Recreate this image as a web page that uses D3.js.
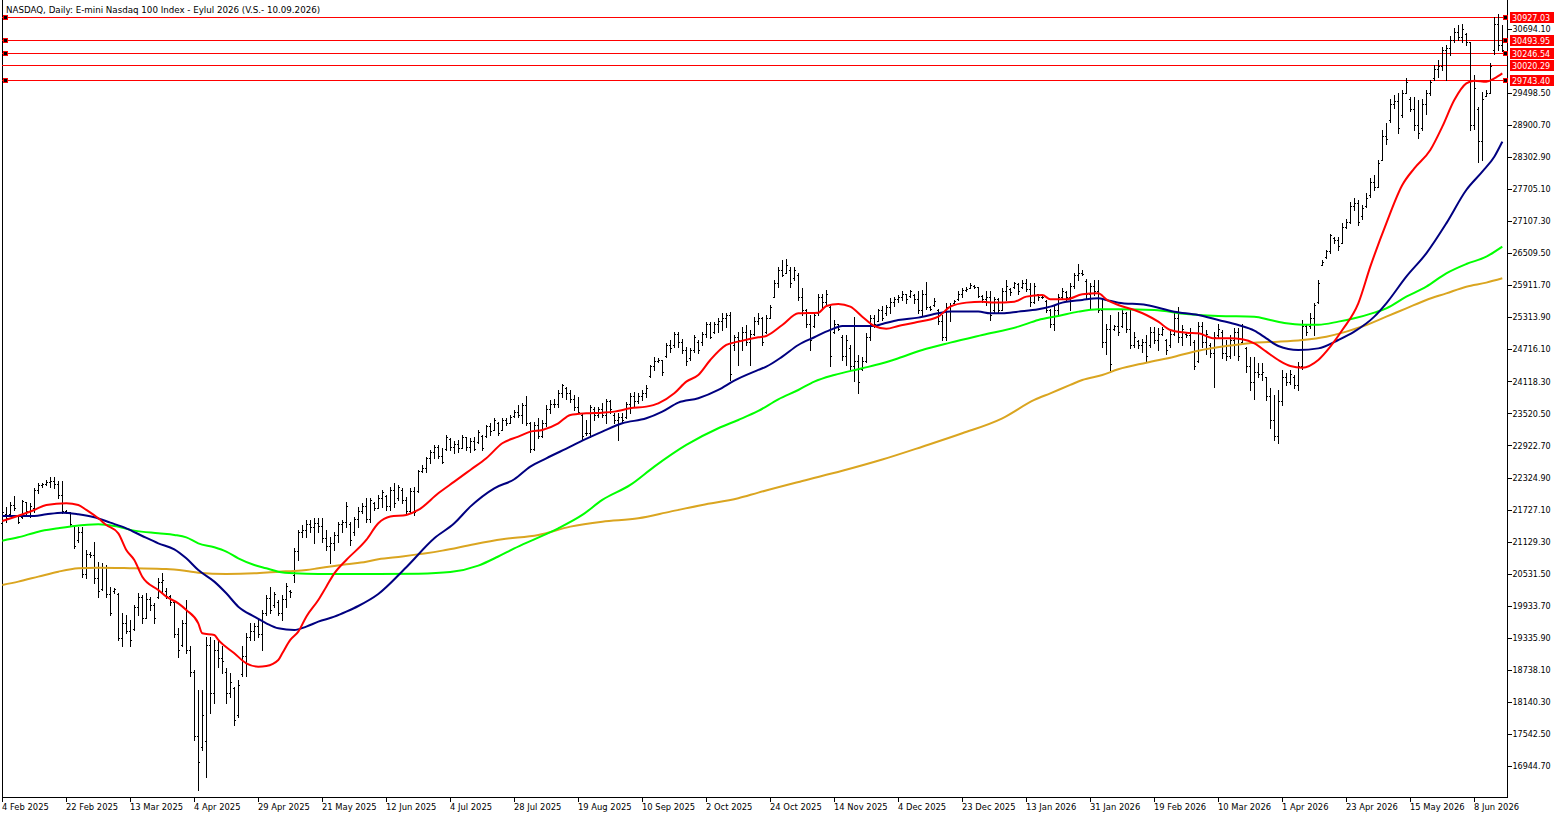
<!DOCTYPE html>
<html><head><meta charset="utf-8">
<script src="https://cdn.jsdelivr.net/npm/d3@7"></script>
<style>
body{margin:0;background:#fff;}
svg{display:block;}
text{font-family:"DejaVu Sans",Verdana,sans-serif;font-size:8px;}
</style>
</head><body><svg id="c" width="1565" height="818"></svg>
<script>
const title = "NASDAQ, Daily:  E-mini Nasdaq 100 Index - Eylul 2026 (V.S.- 10.09.2026)";
const dateLabels = ["4 Feb 2025","22 Feb 2025","13 Mar 2025","4 Apr 2025","29 Apr 2025","21 May 2025","12 Jun 2025","4 Jul 2025","28 Jul 2025","19 Aug 2025","10 Sep 2025","2 Oct 2025","24 Oct 2025","14 Nov 2025","4 Dec 2025","23 Dec 2025","13 Jan 2026","31 Jan 2026","19 Feb 2026","10 Mar 2026","1 Apr 2026","23 Apr 2026","15 May 2026","8 Jun 2026"];
const dateLabelBars = [0,16,32,48,64,80,96,112,128,144,160,176,192,208,224,240,256,272,288,304,320,336,352,368];
const priceTicks = [16944.70,17542.50,18140.30,18738.10,19335.90,19933.70,20531.50,21129.30,21727.10,22324.90,22922.70,23520.50,24118.30,24716.10,25313.90,25911.70,26509.50,27107.30,27705.10,28302.90,28900.70,29498.50,30694.10];
const levels = [30927.03,30493.95,30246.54,30020.29,29743.40];
const levelMarked = [true,true,true,false,true];

// [open, high, low, close] per daily bar
const ohlc = [
[21480,21720,21410,21680],[21650,21780,21500,21560],[21650,21875,21625,21820],[21820,21980,21720,21760],[21600,21625,21470,21500],
[21580,21905,21565,21880],[21860,21875,21625,21700],[21700,21840,21595,21800],[21760,22120,21690,22100],[22100,22215,22030,22180],
[22180,22230,22155,22200],[22200,22280,22185,22240],[22240,22330,22155,22260],[22260,22330,22120,22200],[22200,22265,21935,22000],
[22000,22265,21655,21700],[21700,21720,21655,21680],[21680,21690,21440,21460],[21420,21440,21000,21050],[21150,21410,21130,21300],
[21300,21410,20475,20520],[20520,20970,20440,20900],[20900,20940,20850,20880],[20880,21130,20350,20450],[20450,20755,20100,20200],
[20250,20720,20225,20650],[20650,20690,20100,20150],[20150,20290,19760,19800],[20200,20255,20160,20240],[20150,20160,19290,19330],
[19330,19790,19170,19600],[19600,19760,19415,19450],[19450,19665,19170,19300],[19500,19945,19480,19900],[19900,20160,19760,20100],
[20100,20130,19600,19700],[19700,20160,19700,20050],[20050,20100,19850,19950],[19950,19975,19600,19700],[20100,20440,20070,20380],
[20380,20535,20160,20420],[20200,20255,20070,20120],[20120,20130,19945,20000],[20000,20010,19355,19400],[19400,19510,18980,19100],
[19200,19665,19170,19600],[19600,20040,19040,19100],[19100,19170,18610,18700],[18700,18730,17425,17500],[17500,18360,16490,17020],
[17300,18360,17240,17900],[17400,19355,16740,19200],[19200,19355,17920,18300],[18300,19290,18110,19100],[19100,19290,18790,18950],
[18950,19170,18670,18900],[18700,18760,18110,18300],[18300,18670,18230,18500],[18400,18420,17700,17800],[17900,18545,17860,18450],
[18650,19170,18610,19000],[19000,19415,18610,19350],[19350,19600,19290,19450],[19450,19600,19290,19550],[19550,19665,19355,19400],
[19400,19850,19105,19800],[19800,20130,19760,20080],[20080,20290,19790,19850],[19950,20195,19915,20150],[20000,20040,19760,19800],
[19800,20130,19665,20050],[20050,20350,19915,20300],[20200,20225,20100,20180],[20500,21000,20380,20950],[20950,21345,20785,21300],
[21300,21440,21220,21350],[21350,21530,21220,21450],[21450,21530,21310,21400],[21400,21560,21095,21480],[21480,21560,21310,21420],
[21420,21560,21125,21200],[21200,21345,20970,21050],[21050,21220,20720,21100],[21100,21315,20970,21250],[21250,21500,21125,21450],
[21450,21530,21310,21500],[21500,21875,21410,21800],[21450,21500,21065,21150],[21300,21595,21250,21550],[21550,21780,21410,21700],
[21700,21845,21660,21800],[21800,21935,21500,21550],[21550,21935,21500,21900],[21850,21875,21720,21750],[21750,22000,21750,21950],
[21950,22090,21780,22050],[21980,22000,21720,21800],[21800,22155,21720,22100],[22100,22220,21780,21850],[21950,22190,21910,22150],
[22100,22120,21840,21900],[21900,21970,21660,21700],[21700,22120,21660,22080],[22080,22155,21630,21680],[22070,22470,22060,22450],
[22450,22560,22435,22500],[22500,22715,22435,22680],[22680,22840,22590,22800],[22800,22930,22685,22900],[22900,22930,22685,22720],
[22720,22870,22590,22620],[22850,23120,22840,23080],[23040,23060,22840,22900],[22900,23000,22780,22950],[22950,23030,22810,22880],
[22880,23120,22870,23080],[23080,23090,22840,22900],[22900,23060,22810,23000],[23000,23090,22840,22850],[22980,23210,22965,23180],
[23100,23120,22840,22880],[23100,23310,23090,23280],[23280,23340,23120,23200],[23220,23430,23210,23400],[23350,23370,23120,23150],
[23220,23430,23210,23400],[23400,23430,23310,23350],[23350,23490,23340,23450],[23470,23590,23460,23550],[23550,23680,23460,23500],
[23500,23710,23340,23680],[23680,23850,23310,23350],[23350,23370,22810,22850],[22850,23370,22840,23300],[23300,23430,23060,23100],
[23100,23400,23090,23350],[23350,23680,23280,23600],[23600,23770,23520,23700],[23700,23800,23650,23700],[23700,23960,23650,23900],
[23900,24080,23835,24050],[24000,24020,23800,23900],[23900,23960,23740,23800],[23800,23870,23590,23650],[23650,23835,23520,23550],
[23500,23520,23030,23100],[23150,23400,23120,23150],[23150,23680,23090,23650],[23600,23650,23400,23500],[23500,23650,23460,23600],
[23600,23710,23460,23500],[23500,23800,23340,23750],[23750,23770,23520,23600],[23500,23520,23340,23400],[23400,23520,23030,23450],
[23450,23520,23340,23400],[23450,23740,23430,23700],[23700,23900,23520,23850],[23850,23930,23650,23750],[23750,23900,23710,23850],
[23850,23960,23770,23900],[23900,24050,23835,24000],[24220,24430,24210,24400],[24400,24580,24330,24500],[24500,24550,24490,24520],
[24520,24520,24240,24300],[24600,24830,24580,24800],[24800,24890,24675,24750],[24800,25050,24770,25000],[25000,25050,24770,24850],
[24850,24920,24645,24700],[24700,24770,24430,24500],[24550,24740,24520,24700],[24700,24990,24675,24950],[24850,24890,24645,24700],
[24850,25050,24800,25000],[25000,25235,24955,25200],[25200,25235,24925,24950],[25050,25235,25015,25200],[25200,25300,25050,25250],
[25250,25390,25080,25300],[25300,25390,25140,25350],[25350,25420,24150,24250],[24800,24990,24705,24950],[24950,25050,24430,24900],
[24900,25140,24705,25050],[25050,25170,24800,24850],[24850,25080,24430,25000],[25000,25330,24990,25250],[25250,25390,25200,25300],
[25300,25330,24800,24850],[25050,25360,25020,25300],[25300,25550,25300,25500],[25700,26010,25700,25950],[25950,26260,25890,26200],
[26200,26390,26080,26100],[26150,26400,26140,26300],[26200,26260,25890,25950],[26050,26260,26010,26200],[26100,26140,25640,25700],
[25700,25860,25360,25450],[25450,25480,25140,25200],[25200,25360,24710,24900],[25150,25420,25140,25350],[25400,25760,25360,25700],
[25700,25760,25480,25600],[25600,25830,25520,25750],[25500,25550,24400,24600],[25050,25270,25020,25200],[25200,25200,25080,25100],
[24950,24990,24520,24600],[24600,24990,24430,24900],[24750,24800,24330,24400],[24400,25330,24120,24500],[24500,24610,23900,24100],
[24350,24580,24330,24500],[24500,25020,24490,24950],[24950,25360,24890,25300],[25300,25360,25140,25200],[25250,25480,25240,25450],
[25450,25520,25270,25300],[25400,25550,25360,25500],[25500,25670,25390,25600],[25600,25700,25520,25650],[25650,25730,25610,25700],
[25700,25800,25640,25750],[25750,25760,25580,25650],[25720,25830,25700,25800],[25740,25760,25580,25650],[25650,25800,25390,25450],
[25450,25830,25360,25750],[25750,25980,25480,25500],[25500,25520,25450,25480],[25540,25670,25520,25620],[25460,25480,25200,25250],
[25250,25360,24890,24950],[24950,25580,24890,25500],[25500,25580,25240,25550],[25590,25640,25580,25620],[25650,25800,25640,25750],
[25750,25860,25700,25820],[25820,25890,25800,25850],[25870,25950,25860,25920],[25900,25920,25860,25880],[25880,25890,25700,25720],
[25720,25730,25610,25650],[25650,25800,25550,25700],[25700,25800,25270,25350],[25450,25700,25420,25650],[25650,25670,25390,25450],
[25450,25860,25450,25800],[25800,26010,25640,25900],[25850,25860,25730,25780],[25880,25980,25860,25950],[25930,25950,25760,25800],
[25880,26010,25860,25950],[25950,26040,25800,25850],[25850,25950,25520,25600],[25600,25950,25580,25900],[25750,25760,25640,25700],
[25700,25730,25670,25700],[25620,25640,25420,25450],[25450,25480,25140,25200],[25200,25520,25080,25450],[25450,25760,25360,25700],
[25700,25860,25670,25800],[25780,25800,25640,25700],[25700,25950,25450,25900],[25900,26140,25860,26100],[26100,26320,26010,26150],
[26150,26200,26110,26130],[26000,26040,25670,25750],[25750,25950,25480,25900],[25900,26010,25730,25800],[25800,26010,25420,25450],
[25450,25670,24770,24850],[24850,25200,24640,25100],[25100,25360,24330,24450],[25100,25170,25080,25150],[25150,25420,24990,25050],
[25150,25450,25140,25400],[25400,25420,25050,25100],[25100,25450,24740,24800],[24800,25050,24770,24950],[24870,24890,24740,24800],
[24800,24920,24670,24850],[24850,24990,24490,24600],[24800,25140,24770,25050],[25050,25140,24830,24900],[24900,25110,24700,25000],
[25000,25140,24990,25100],[24900,24920,24640,24700],[24800,25080,24770,25000],[25000,25390,24990,25300],[25300,25510,24860,24950],
[24950,25170,24800,25100],[25000,25020,24950,24980],[24980,25110,24800,25050],[24850,24890,24360,24400],[24500,25230,24490,25150],
[25150,25230,24770,24850],[24850,25080,24640,25000],[24800,24830,24580,24650],[24650,25050,24020,24950],[24980,25200,24950,25100],
[25050,25080,24550,24650],[24650,24890,24520,24600],[24600,24990,24550,24900],[24900,25110,24610,25050],[25050,25110,24520,24600],
[24850,25200,24830,25150],[24750,24770,24300,24400],[24400,24580,23960,24100],[24100,24580,23800,24300],[24300,24460,24210,24250],
[24250,24460,24150,24300],[24200,24210,23770,23850],[23850,23990,23240,23400],[23400,23860,23030,23100],[23100,23960,22960,23750],
[23750,24330,23680,24200],[24200,24270,24050,24100],[24100,24330,24080,24250],[24200,24240,23990,24050],[24050,24490,23960,24400],
[24400,25270,24360,25150],[25150,25200,24990,25050],[25150,25390,25110,25300],[25300,25580,24990,25550],[25600,26010,25580,25950],
[26300,26390,26290,26350],[26450,26570,26420,26550],[26550,26880,26510,26850],[26800,26820,26700,26750],[26750,26820,26570,26650],
[26700,27070,26700,27000],[27000,27160,26980,27100],[27100,27470,27070,27400],[27400,27540,27320,27450],[27450,27510,27040,27100],
[27200,27410,27160,27350],[27400,27630,27380,27550],[27600,27910,27570,27850],[27850,27970,27690,27750],[27750,28250,27750,28200],
[28250,28810,28250,28700],[28700,28940,28560,28650],[29000,29400,28970,29300],[29300,29470,29220,29350],[29350,29500,28750,28850],
[29100,29560,29060,29500],[29500,29780,29500,29700],[29400,29430,29160,29200],[29200,29430,28810,28900],[28900,29370,28660,28750],
[28850,29400,28810,29300],[29300,29560,29120,29500],[29500,29750,29470,29700],[29780,30030,29750,29950],[29950,30120,29810,30000],
[30000,30370,29930,30300],[30300,30400,29750,30350],[30350,30560,30210,30500],[30500,30710,30460,30650],[30650,30770,30490,30550],
[30550,30800,30460,30700],[30600,30620,30400,30450],[30450,30460,28810,28900],[28900,29840,28840,29600],[29200,29250,28220,28600],
[28600,29530,28250,29400],[29450,29560,29440,29500],[29500,30060,29500,30000],[30300,30930,30240,30800],[30800,30980,30310,30400],
[30400,30770,30280,30300]
];

// moving averages: [bar index, value]
const maRed = [[0,21513],[8,21719],[11,21812],[16,21843],[19,21812],[21,21719],[24,21563],[26,21439],[29,21283],[31,20972],[33,20785],[35,20474],[39,20225],[41,20100],[44,19976],[46,19852],[49,19603],[50,19416],[53,19385],[54,19292],[58,19043],[61,18856],[64,18794],[66,18806],[69,18918],[70,19043],[72,19292],[74,19447],[76,19727],[79,20038],[81,20287],[83,20536],[86,20785],[91,21159],[94,21470],[97,21595],[101,21626],[104,21719],[109,22030],[113,22248],[117,22466],[121,22684],[125,22964],[129,23088],[132,23182],[135,23213],[139,23337],[142,23493],[146,23524],[150,23536],[153,23555],[157,23617],[161,23648],[164,23710],[168,23897],[171,24115],[174,24239],[177,24519],[181,24799],[184,24862],[189,24943],[191,24968],[195,25173],[199,25391],[204,25403],[206,25528],[209,25565],[212,25515],[215,25328],[218,25154],[221,25104],[224,25154],[228,25216],[234,25328],[237,25515],[241,25590],[245,25608],[248,25590],[253,25608],[256,25702],[260,25733],[262,25652],[266,25652],[270,25745],[274,25764],[276,25652],[279,25546],[283,25452],[286,25359],[289,25235],[292,25079],[296,25029],[299,25017],[303,24923],[307,24923],[310,24905],[313,24830],[316,24674],[319,24519],[322,24407],[325,24376],[329,24519],[332,24768],[335,25079],[339,25577],[342,26261],[346,27070],[350,27786],[353,28097],[357,28439],[360,28875],[363,29373],[366,29684],[368,29734],[371,29715],[373,29777],[375,29871]];
const maNavy = [[0,21607],[8,21607],[11,21638],[15,21669],[19,21638],[23,21582],[27,21482],[31,21376],[35,21233],[39,21096],[43,20984],[46,20816],[49,20598],[53,20381],[56,20163],[59,19914],[63,19727],[66,19603],[69,19509],[73,19478],[76,19541],[79,19634],[83,19727],[86,19821],[89,19926],[94,20150],[101,20650],[108,21190],[113,21470],[117,21781],[123,22124],[128,22292],[132,22528],[136,22684],[142,22901],[145,23013],[150,23182],[155,23337],[161,23430],[165,23555],[169,23723],[174,23804],[179,23959],[183,24134],[189,24333],[191,24395],[195,24582],[199,24799],[203,24943],[207,25080],[210,25154],[218,25154],[220,25191],[224,25266],[229,25310],[234,25391],[237,25422],[244,25422],[247,25391],[250,25391],[254,25422],[259,25465],[262,25515],[265,25590],[270,25640],[274,25671],[276,25640],[279,25589],[286,25546],[293,25421],[299,25359],[304,25266],[309,25172],[313,25067],[316,24923],[319,24780],[324,24705],[329,24736],[334,24892],[338,25048],[343,25328],[346,25577],[351,26075],[356,26510],[361,27070],[366,27692],[370,28035],[373,28315],[375,28595]];
const maGreen = [[0,21146],[4,21208],[9,21314],[14,21376],[18,21420],[24,21451],[28,21420],[33,21333],[39,21283],[43,21252],[46,21208],[49,21096],[53,21022],[56,20941],[59,20816],[63,20692],[66,20630],[69,20567],[73,20536],[79,20524],[86,20524],[94,20524],[104,20530],[112,20560],[119,20680],[124,20850],[128,21000],[133,21171],[139,21377],[145,21626],[150,21906],[157,22186],[163,22528],[171,22933],[179,23244],[184,23399],[189,23567],[194,23785],[199,23959],[203,24115],[208,24239],[215,24364],[220,24457],[224,24551],[230,24706],[237,24843],[245,24986],[254,25142],[259,25266],[264,25341],[269,25422],[274,25465],[279,25465],[288,25452],[296,25378],[304,25340],[313,25328],[317,25266],[321,25203],[325,25178],[329,25178],[334,25235],[338,25297],[343,25403],[346,25483],[351,25701],[356,25888],[361,26137],[366,26311],[371,26448],[375,26635]];
const maGold = [[0,20318],[4,20381],[9,20474],[14,20567],[19,20630],[24,20642],[33,20630],[41,20617],[46,20580],[49,20549],[56,20524],[63,20536],[69,20567],[73,20580],[76,20598],[79,20630],[83,20673],[86,20704],[91,20754],[94,20798],[100,20850],[110,20960],[118,21080],[125,21171],[134,21252],[142,21408],[150,21501],[159,21564],[167,21688],[175,21812],[184,21937],[189,22043],[200,22260],[210,22450],[220,22660],[230,22900],[240,23150],[250,23430],[258,23773],[262,23897],[267,24053],[270,24146],[275,24239],[279,24345],[286,24469],[293,24581],[299,24693],[306,24780],[313,24843],[319,24861],[325,24892],[331,24954],[336,25048],[341,25172],[346,25328],[351,25483],[356,25639],[361,25763],[366,25888],[371,25963],[375,26044]];

const svg = d3.select("#c");
const plotL = 2, plotR = 1507, plotB = 797;
const font = '"DejaVu Sans",Verdana,sans-serif';
const x = d3.scaleLinear().domain([0, 375]).range([2.3, 1502.3]);
const y = d3.scaleLinear().domain([16360, 31240]).range([797, 0]);
const col = i => Math.floor(x(i));
const row = v => Math.round(y(v));

// frame
svg.append("line").attr("x1", plotL + 0.5).attr("x2", plotL + 0.5).attr("y1", 0).attr("y2", plotB).attr("stroke", "#000");
svg.append("line").attr("x1", plotR + 0.5).attr("x2", plotR + 0.5).attr("y1", 0).attr("y2", plotB + 1).attr("stroke", "#000");
svg.append("line").attr("x1", plotL).attr("x2", plotR + 1).attr("y1", plotB + 0.5).attr("y2", plotB + 0.5).attr("stroke", "#000");

// title
svg.append("text").attr("x", 6).attr("y", 12.5).attr("fill", "#000").style("font-size", "8.7px").text(title);

// y axis
const yAxis = d3.axisRight(y).tickValues(priceTicks).tickFormat(d => d.toFixed(2)).tickSize(4).tickPadding(1);
const gy = svg.append("g").attr("transform", `translate(${plotR + 0.5},0)`).call(yAxis);
gy.select(".domain").remove();
gy.selectAll(".tick line").attr("stroke", "#000").attr("shape-rendering", "crispEdges");
gy.selectAll(".tick text").attr("fill", "#000").style("font-size", "8px").style("font-family", font);

// x axis
const xAxis = d3.axisBottom(x).tickValues(dateLabelBars).tickFormat((d, k) => dateLabels[k]).tickSize(4).tickPadding(3);
const gx = svg.append("g").attr("transform", `translate(0,${plotB + 0.5})`).call(xAxis);
gx.select(".domain").remove();
gx.selectAll(".tick").attr("transform", d => `translate(${col(d) + 0.5},0)`);
gx.selectAll(".tick line").attr("stroke", "#000").attr("shape-rendering", "crispEdges");
gx.selectAll(".tick text").attr("text-anchor", "start").attr("x", -0.5).attr("fill", "#000").style("font-size", "8.4px").style("font-family", font);

// horizontal level lines
const gl = svg.append("g");
levels.forEach((v, k) => {
  const yy = row(v) + 0.5;
  gl.append("line").attr("x1", plotL).attr("x2", plotR).attr("y1", yy).attr("y2", yy)
    .attr("stroke", "#ff0000").attr("stroke-width", 1).attr("shape-rendering", "crispEdges");
});

// bars
const gb = svg.append("g").attr("shape-rendering", "crispEdges").attr("stroke", "#000").attr("stroke-width", 1);
ohlc.forEach((b, i) => {
  const c = col(i);
  const [o, h, l, cl] = b;
  gb.append("line").attr("x1", c + 0.5).attr("x2", c + 0.5).attr("y1", row(h)).attr("y2", row(l) + 1);
  gb.append("line").attr("x1", c - 1).attr("x2", c).attr("y1", row(o) + 0.5).attr("y2", row(o) + 0.5);
  gb.append("line").attr("x1", c + 1).attr("x2", c + 2).attr("y1", row(cl) + 0.5).attr("y2", row(cl) + 0.5);
});

// moving averages
const line = d3.line().x(d => x(d[0])).y(d => y(d[1])).curve(d3.curveMonotoneX);
[[maGold, "#daa520"], [maGreen, "#00ff00"], [maNavy, "#000080"], [maRed, "#ff0000"]].forEach(([data, color]) => {
  svg.append("path").datum(data).attr("d", line).attr("fill", "none").attr("stroke", color).attr("stroke-width", 2);
});

// level markers and labels
levels.forEach((v, k) => {
  const yy = row(v);
  if (levelMarked[k]) {
    [3, 1503].forEach(xx => {
      svg.append("rect").attr("x", xx + 0.5).attr("y", yy - 2 + 0.5).attr("width", 4).attr("height", 4)
        .attr("fill", "#000").attr("stroke", "#ff0000").attr("stroke-width", 1).attr("shape-rendering", "crispEdges");
    });
  }
  svg.append("rect").attr("x", 1510).attr("y", yy - 5).attr("width", 44).attr("height", 11).attr("fill", "#ff0000");
  svg.append("text").attr("x", 1512).attr("y", yy + 3.5).attr("fill", "#fff").text(v.toFixed(2));
});
</script>
</body></html>
